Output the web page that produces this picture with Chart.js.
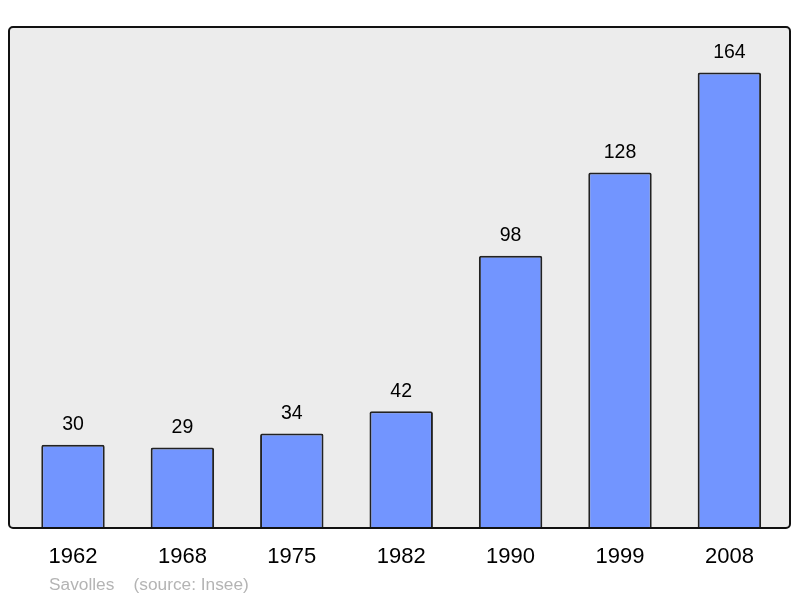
<!DOCTYPE html>
<html>
<head>
<meta charset="utf-8">
<script src="https://cdn.jsdelivr.net/npm/chart.js@4/dist/chart.umd.min.js"></script>
<style>
html,body{margin:0;padding:0;background:#fff;}
canvas{display:block;}
</style>
</head>
<body>
<canvas id="c" width="800" height="598"></canvas>
<script>
const years = ['1962','1968','1975','1982','1990','1999','2008'];
const population = [30, 29, 34, 42, 98, 128, 164];
const footerText = 'Savolles    (source: Insee)';

const FONT = '"Liberation Sans", Arial, sans-serif';

const framePlugin = {
  id: 'frame',
  beforeDraw(chart) {
    const {ctx, chartArea: a} = chart;
    ctx.save();
    ctx.fillStyle = '#ececec';
    ctx.beginPath();
    ctx.roundRect(a.left, a.top, a.right - a.left, a.bottom - a.top, 4);
    ctx.fill();
    ctx.restore();
  },
  afterDatasetsDraw(chart) {
    const {ctx, chartArea: a} = chart;
    const meta = chart.getDatasetMeta(0);
    ctx.save();
    ctx.fillStyle = '#000';
    ctx.font = '19.5px ' + FONT;
    ctx.textAlign = 'center';
    ctx.textBaseline = 'alphabetic';
    meta.data.forEach((el, i) => {
      ctx.fillText(String(population[i]), el.x, el.y - 14.5);
    });
    ctx.strokeStyle = '#111';
    ctx.lineWidth = 2;
    ctx.beginPath();
    ctx.roundRect(a.left, a.top, a.right - a.left, a.bottom - a.top, 4);
    ctx.stroke();
    ctx.fillStyle = '#b4b4b4';
    ctx.font = '17.3px ' + FONT;
    ctx.textAlign = 'left';
    ctx.fillText(footerText, 49, 590);
    ctx.restore();
  }
};

new Chart(document.getElementById('c'), {
  type: 'bar',
  data: {
    datasets: [{
      data: years.map((y, i) => ({x: i, y: population[i]})),
      backgroundColor: '#7295ff',
      borderColor: '#222',
      borderWidth: 2,
      borderRadius: 2,
      borderSkipped: 'bottom',
      barPercentage: 0.58,
      categoryPercentage: 1
    }]
  },
  options: {
    responsive: false,
    animation: false,
    devicePixelRatio: 1,
    layout: {padding: {left: 9, right: 10, top: 27, bottom: 0}},
    plugins: {legend: {display: false}, tooltip: {enabled: false}, title: {display: false}},
    scales: {
      x: {
        type: 'linear',
        offset: false,
        min: -0.585,
        max: 6.554,
        grid: {display: false},
        border: {display: false},
        afterBuildTicks(scale) { scale.ticks = years.map((_, i) => ({value: i})); },
        afterFit(scale) { scale.height = 70; },
        ticks: {
          autoSkip: false,
          maxRotation: 0,
          padding: 8,
          color: '#000',
          font: {family: FONT, size: 22},
          callback: (v) => years[v]
        }
      },
      y: {display: false, min: 0, max: 180.4}
    }
  },
  plugins: [framePlugin]
});
</script>
</body>
</html>
